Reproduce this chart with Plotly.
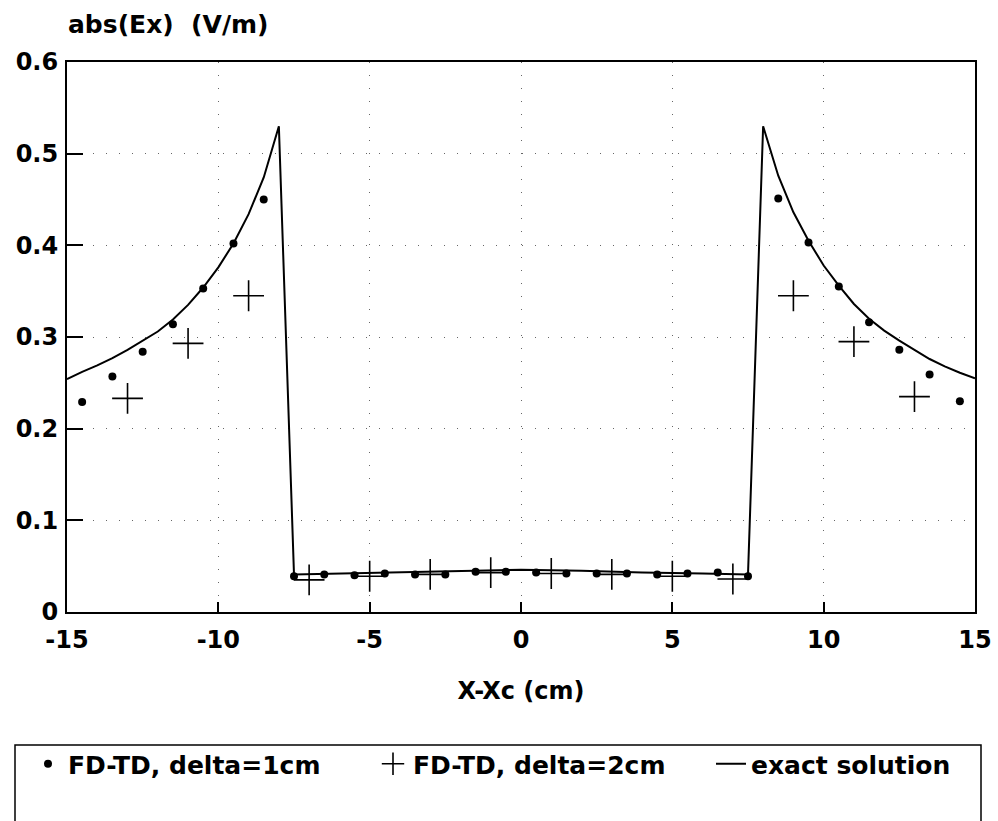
import plotly.graph_objects as go

# exact solution
exact_x = [-15, -14.5, -14, -13.5, -13, -12.5, -12, -11.5, -11, -10.5, -10, -9.5, -9, -8.5, -8,
           -7.5, -6, -4, -2, 0, 2, 4, 6, 7.5,
           8, 8.5, 9, 9.5, 10, 10.5, 11, 11.5, 12, 12.5, 13, 13.5, 14, 14.5, 15]
exact_y = [0.254, 0.262, 0.269, 0.277, 0.286, 0.296, 0.306, 0.319, 0.335, 0.354, 0.376, 0.402, 0.434, 0.474, 0.530,
           0.041, 0.042, 0.043, 0.045, 0.046, 0.045, 0.043, 0.042, 0.041,
           0.530, 0.476, 0.436, 0.405, 0.378, 0.356, 0.336, 0.320, 0.307, 0.296, 0.286, 0.276, 0.268, 0.261, 0.255]

# FD-TD, delta = 1 cm
fd1_x = [-14.5, -13.5, -12.5, -11.5, -10.5, -9.5, -8.5, -7.5, -6.5, -5.5, -4.5, -3.5, -2.5, -1.5, -0.5,
         0.5, 1.5, 2.5, 3.5, 4.5, 5.5, 6.5, 7.5, 8.5, 9.5, 10.5, 11.5, 12.5, 13.5, 14.5]
fd1_y = [0.229, 0.257, 0.284, 0.314, 0.353, 0.402, 0.450, 0.039, 0.041, 0.040, 0.042, 0.041, 0.041, 0.044, 0.044,
         0.043, 0.042, 0.042, 0.042, 0.041, 0.042, 0.043, 0.039, 0.451, 0.403, 0.355, 0.316, 0.286, 0.259, 0.230]

# FD-TD, delta = 2 cm
fd2_x = [-13, -11, -9, -7, -5, -3, -1, 1, 3, 5, 7, 9, 11, 13]
fd2_y = [0.233, 0.293, 0.345, 0.035, 0.039, 0.041, 0.043, 0.042, 0.041, 0.039, 0.036, 0.345, 0.295, 0.235]

x_ticks = [-15, -10, -5, 0, 5, 10, 15]
y_ticks = [0, 0.1, 0.2, 0.3, 0.4, 0.5, 0.6]
y_tick_text = ["0", "0.1", "0.2", "0.3", "0.4", "0.5", "0.6"]

FONT = "DejaVu Sans"

fig = go.Figure()
fig.add_trace(go.Scatter(x=fd1_x, y=fd1_y, mode="markers", name="FD-TD, delta=1cm",
                         legend="legend",
                         marker=dict(symbol="circle", size=8, color="black")))
fig.add_trace(go.Scatter(x=fd2_x, y=fd2_y, mode="markers", name="FD-TD, delta=2cm",
                         legend="legend2",
                         marker=dict(symbol="cross-thin", size=22, color="black",
                                     line=dict(width=1.6, color="black"))))
fig.add_trace(go.Scatter(x=exact_x, y=exact_y, mode="lines", name="exact solution",
                         legend="legend3",
                         line=dict(color="black", width=2)))

W, H = 998, 821
L, R, T, B = 67, 23, 62, 209
pw, ph = W - L - R, H - T - B

def px_x(p):
    return (p - L) / pw

def px_y(p):
    return (H - B - p) / ph

LEG_Y = 764

def legend_at(xpix):
    return dict(orientation="h", x=px_x(xpix), xanchor="left", y=px_y(LEG_Y), yanchor="middle",
                font=dict(family=FONT, size=25, color="black", weight="bold"),
                bgcolor="rgba(0,0,0,0)", borderwidth=0, itemwidth=30)

fig.update_layout(
    width=W, height=H,
    margin=dict(l=L, r=R, t=T, b=B, autoexpand=False),
    paper_bgcolor="white", plot_bgcolor="white",
    font=dict(family=FONT, size=24, color="black", weight="bold"),
    showlegend=True,
    legend=legend_at(28),
    legend2=legend_at(373),
    legend3=legend_at(711),
    xaxis=dict(range=[-15, 15], tickvals=x_ticks, ticktext=[str(v) for v in x_ticks],
               showline=True, linecolor="black", linewidth=2, mirror=True,
               ticks="inside", ticklen=10, tickwidth=1.5, tickcolor="black",
               ticklabelstandoff=5, automargin=False,
               showgrid=True, gridcolor="#666", gridwidth=1, griddash="1px,12px",
               zeroline=False,
               title=dict(text="X-Xc (cm)", standoff=29,
                          font=dict(family=FONT, size=24, color="black", weight="bold"))),
    yaxis=dict(range=[0, 0.6], tickvals=y_ticks, ticktext=y_tick_text,
               showline=True, linecolor="black", linewidth=2, mirror=True,
               ticks="inside", ticklen=16, tickwidth=1.5, tickcolor="black",
               ticklabelstandoff=2, automargin=False,
               showgrid=True, gridcolor="#666", gridwidth=1, griddash="1px,12px",
               zeroline=False),
    annotations=[dict(text="abs(Ex)  (V/m)", xref="paper", yref="paper",
                      x=px_x(66), y=px_y(24), xanchor="left", yanchor="middle",
                      showarrow=False,
                      font=dict(family=FONT, size=25, color="black", weight="bold"))],
    shapes=[dict(type="rect", xref="paper", yref="paper",
                 x0=px_x(15), x1=px_x(981), y0=px_y(745), y1=px_y(840),
                 line=dict(color="black", width=1.5), fillcolor="rgba(0,0,0,0)")],
)

fig.write_html("out.html", config={"displayModeBar": False},
               post_script="document.body.style.margin='0px';")
